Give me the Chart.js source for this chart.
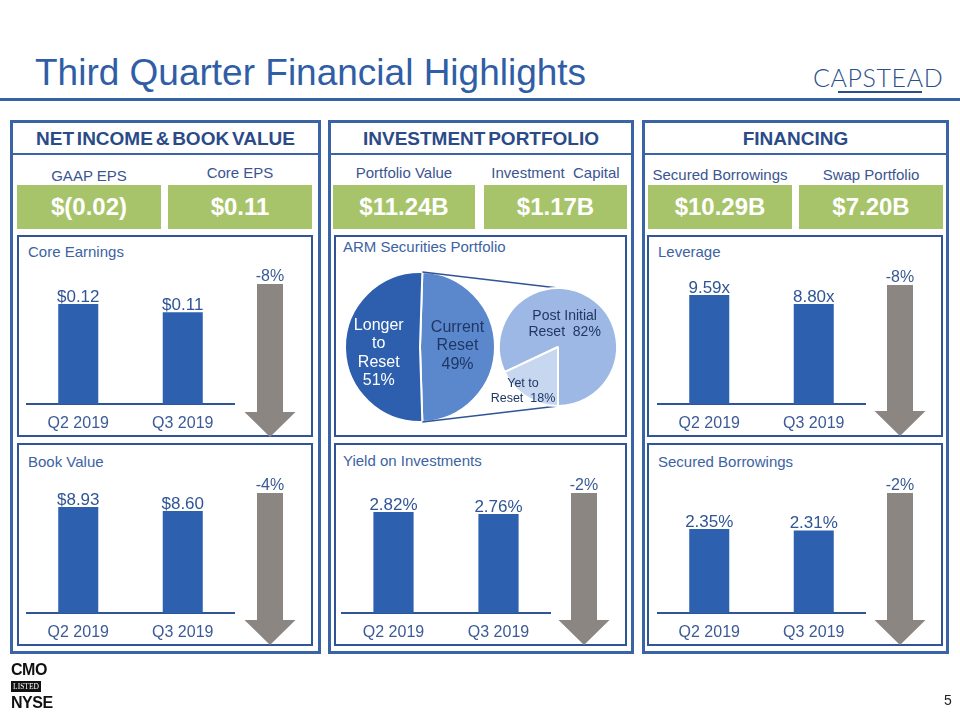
<!DOCTYPE html>
<html lang="en">
<head>
<meta charset="UTF-8">
<title>Third Quarter Financial Highlights</title>
<script src="https://cdn.jsdelivr.net/npm/chart.js@4.4.1/dist/chart.umd.min.js"></script>
<style>
  body { margin: 0; background: #fff; font-family: "Liberation Sans", Arial, sans-serif; }
  #slide { position: relative; width: 960px; height: 720px; overflow: hidden; background: #fff; }
  #slide div, #slide canvas, #slide svg { position: absolute; }
  .title { left: 35px; top: 54px; font-size: 37px; line-height: 37px; color: #2f5ea6; white-space: nowrap; }
  .logo { left: 813px; top: 65px; font-family: Lato, "Open Sans", sans-serif; font-weight: 300; font-size: 25px; line-height: 25px; letter-spacing: 0.6px; color: #2c4f8c; }
  .panel { box-sizing: border-box; top: 120px; height: 534px; border: 3px solid #3a64a6; }
  .sep { left: 0; right: 0; top: 30px; height: 2px; background: #3a64a6; }
  .head { left: 0; right: 0; top: 6px; text-align: center; font-weight: bold; font-size: 19px; line-height: 19px; word-spacing: -2.5px; color: #2b4b88; }
  .klabel { font-size: 15px; line-height: 15px; color: #3b5590; text-align: center; width: 150px; white-space: nowrap; }
  .kval { top: 185px; height: 44px; background: #a8c46a; color: #fff; font-weight: bold; font-size: 24px; line-height: 44px; text-align: center; }
  .sub { box-sizing: border-box; border: 2px solid #2f5597; height: 202px; }
  .stitle { font-size: 15px; line-height: 15px; color: #3c63a3; white-space: nowrap; }
  .chg { font-size: 16px; line-height: 16px; color: #3a5a95; width: 60px; text-align: center; }
</style>
</head>
<body>
<div id="slide">
  <div class="title">Third Quarter Financial Highlights</div>
  <div class="logo">CAPSTEAD</div>
  <div style="left:838px; top:91px; width:84px; height:2px; background:#2c4f8c;"></div>
  <div style="left:0; top:98px; width:960px; height:3px; background:#3563a6;"></div>

  <div class="panel" style="left:10px; width:311px;"><div class="sep"></div><div class="head">NET INCOME &amp; BOOK VALUE</div></div>
  <div class="panel" style="left:328px; width:306px;"><div class="sep"></div><div class="head">INVESTMENT PORTFOLIO</div></div>
  <div class="panel" style="left:642px; width:307px;"><div class="sep"></div><div class="head">FINANCING</div></div>

  <div id="kpis"></div>

  <div class="sub" style="left:17px; top:235px; width:296px;"></div>
  <div class="sub" style="left:17px; top:443px; width:296px; height:203px;"></div>
  <div class="sub" style="left:334px; top:235px; width:293px;"></div>
  <div class="sub" style="left:334px; top:443px; width:293px; height:203px;"></div>
  <div class="sub" style="left:647px; top:235px; width:296px;"></div>
  <div class="sub" style="left:647px; top:443px; width:296px; height:203px;"></div>

  <div class="stitle" style="left:28px; top:244px;">Core Earnings</div>
  <div class="stitle" style="left:28px; top:454px;">Book Value</div>
  <div class="stitle" style="left:343px; top:239px;">ARM Securities Portfolio</div>
  <div class="stitle" style="left:343px; top:453px;">Yield on Investments</div>
  <div class="stitle" style="left:658px; top:244px;">Leverage</div>
  <div class="stitle" style="left:658px; top:454px;">Secured Borrowings</div>

  <canvas id="core" width="209" height="190" style="left:26px; top:250px;"></canvas>
  <canvas id="book" width="209" height="189" style="left:26px; top:460px;"></canvas>
  <canvas id="yield" width="210" height="189" style="left:341px; top:460px;"></canvas>
  <canvas id="lev" width="209" height="190" style="left:657px; top:250px;"></canvas>
  <canvas id="borrow" width="209" height="189" style="left:657px; top:460px;"></canvas>
  <canvas id="armBig" width="289" height="197" style="left:337px; top:237px;"></canvas>
  <canvas id="armSmall" width="289" height="197" style="left:337px; top:237px;"></canvas>

  <div id="arrows"></div>

  <div style="left:11px; top:662px; font-weight:bold; font-size:16px; line-height:16px; letter-spacing:-0.5px; color:#111;">CMO</div>
  <div style="left:11px; top:681px; width:30px; height:11px; background:#111; color:#fff; font-family:'Liberation Serif',serif; font-size:7.5px; line-height:11px; text-align:center;">LISTED</div>
  <div style="left:11px; top:695px; font-weight:bold; font-size:16px; line-height:16px; letter-spacing:-0.5px; color:#111;">NYSE</div>
  <div style="left:944px; top:693px; font-size:14px; line-height:14px; color:#222;">5</div>
</div>

<script>
var quarters = ["Q2 2019", "Q3 2019"];
var coreEarnings = [0.12, 0.11];
var bookValue = [8.93, 8.60];
var yieldOnInv = [2.82, 2.76];
var leverage = [9.59, 8.80];
var borrowCost = [2.35, 2.31];

var kpiLabels = ["GAAP EPS", "Core EPS", "Portfolio Value", "Investment  Capital", "Secured Borrowings", "Swap Portfolio"];
var kpiValues = ["$(0.02)", "$0.11", "$11.24B", "$1.17B", "$10.29B", "$7.20B"];

var armNames = [["Current", "Reset"], ["Longer", "to", "Reset"]];
var armShares = [49, 51];
var resetNames = [["Post Initial", "Reset"], ["Yet to", "Reset"]];
var resetShares = [82, 18];

var FONT = '"Liberation Sans", Arial, sans-serif';
Chart.defaults.font.family = FONT;

// headline boxes
var kpiBox = [[17, 144], [168, 144], [333, 142], [484, 143], [648, 144], [799, 144]];
var kpiLabelTop = [168, 165, 165, 165, 167, 167];
var html = "";
kpiLabels.forEach(function (lab, i) {
    var b = kpiBox[i];
    html += '<div class="klabel" style="left:' + (b[0] + b[1] / 2 - 75) + 'px; top:' + kpiLabelTop[i] + 'px;">' + lab.replace(/  /g, " &nbsp;") + '</div>';
    html += '<div class="kval" style="left:' + b[0] + 'px; width:' + b[1] + 'px;">' + kpiValues[i] + '</div>';
});
document.getElementById("kpis").outerHTML = html;

function valueLabels(fmt) {
    return {
        id: "valueLabels",
        afterDatasetsDraw: function (chart) {
            var ctx = chart.ctx;
            var vals = chart.data.datasets[0].data;
            ctx.save();
            ctx.font = "17px " + FONT;
            ctx.fillStyle = "#2f5597";
            ctx.textAlign = "center";
            ctx.textBaseline = "alphabetic";
            chart.getDatasetMeta(0).data.forEach(function (bar, i) {
                ctx.fillText(fmt(vals[i]), bar.x, bar.y - 2);
            });
            ctx.restore();
        }
    };
}

function barChart(id, values, fmt, yMax) {
    return new Chart(document.getElementById(id), {
        type: "bar",
        data: {
            labels: quarters,
            datasets: [{ data: values, backgroundColor: "#2d61b0", barPercentage: 0.383, categoryPercentage: 1 }]
        },
        options: {
            responsive: false,
            animation: false,
            layout: { padding: 0 },
            plugins: { legend: { display: false }, tooltip: { enabled: false } },
            scales: {
                x: {
                    grid: { display: false, drawTicks: false },
                    border: { display: true, color: "#2f5597", width: 2 },
                    ticks: { color: "#3b5a97", font: { size: 16 }, padding: 10 },
                    afterFit: function (s) { s.height = 36; }
                },
                y: { display: false, min: 0, max: yMax }
            }
        },
        plugins: [valueLabels(fmt)]
    });
}

var dollars = function (v) { return "$" + v.toFixed(2); };
var pct = function (v) { return v.toFixed(2) + "%"; };
var times = function (v) { return v.toFixed(2) + "x"; };

barChart("core", coreEarnings, dollars, 0.1848);
barChart("book", bookValue, dollars, 12.89);
barChart("yield", yieldOnInv, pct, 4.27);
barChart("lev", leverage, times, 13.55);
barChart("borrow", borrowCost, pct, 4.28);

// pie labels: lines drawn at a point along each slice's middle angle
function sliceLabels(names, shares, pctOwnLine, style) {
    return {
        id: "sliceLabels",
        afterDatasetsDraw: function (chart) {
            var ctx = chart.ctx;
            ctx.save();
            ctx.textAlign = "center";
            ctx.textBaseline = "middle";
            chart.getDatasetMeta(0).data.forEach(function (arc, i) {
                var s = style[i];
                var lines = names[i].slice();
                if (pctOwnLine) lines.push(shares[i] + "%");
                else lines[lines.length - 1] += "  " + shares[i] + "%";
                var mid = (arc.startAngle + arc.endAngle) / 2;
                var px = arc.x + Math.cos(mid) * arc.outerRadius * s.frac + s.dx;
                var py = arc.y + Math.sin(mid) * arc.outerRadius * s.frac + s.dy;
                ctx.font = s.size + "px " + FONT;
                ctx.fillStyle = s.color;
                var y0 = py - (lines.length - 1) * s.lh / 2;
                lines.forEach(function (t, k) { ctx.fillText(t, px, y0 + k * s.lh); });
            });
            ctx.restore();
        }
    };
}

// turn the big pie so its split line stands upright
var armTotal = armShares[0] + armShares[1];
var armChart = new Chart(document.getElementById("armBig"), {
    type: "pie",
    data: {
        labels: armNames.map(function (n) { return n.join(" "); }),
        datasets: [{ data: armShares, backgroundColor: ["#5b87cd", "#2e5fae"], borderColor: "#fff", borderWidth: 2, hoverOffset: 0 }]
    },
    options: {
        responsive: false,
        animation: false,
        rotation: (180 - 360 * armShares[0] / armTotal) / 2,
        layout: { padding: { left: 7, top: 34, right: 130, bottom: 11 } },
        plugins: { legend: { display: false }, tooltip: { enabled: false } }
    },
    plugins: [sliceLabels(armNames, armShares, true, [
        { frac: 0.5, dx: 0, dy: -1, size: 16, lh: 18.5, color: "#1f3763" },
        { frac: 0.55, dx: 0, dy: 6, size: 16, lh: 18.5, color: "#ffffff" }
    ])]
});

var connector = {
    id: "connector",
    beforeDatasetsDraw: function (chart) {
        var big = armChart.getDatasetMeta(0).data[0];
        var small = chart.getDatasetMeta(0).data[0];
        var ctx = chart.ctx;
        var ends = [[big.startAngle, -Math.PI / 2], [big.endAngle, Math.PI / 2]];
        ctx.save();
        ctx.strokeStyle = "#2f5597";
        ctx.lineWidth = 1.5;
        ends.forEach(function (e) {
            ctx.beginPath();
            ctx.moveTo(big.x + big.outerRadius * Math.cos(e[0]), big.y + big.outerRadius * Math.sin(e[0]));
            ctx.lineTo(small.x + small.outerRadius * Math.cos(e[1]), small.y + small.outerRadius * Math.sin(e[1]));
            ctx.stroke();
        });
        ctx.restore();
    }
};

new Chart(document.getElementById("armSmall"), {
    type: "pie",
    data: {
        labels: resetNames.map(function (n) { return n.join(" "); }),
        datasets: [{ data: resetShares, backgroundColor: ["#9db8e4", "#c8d7f0"], borderColor: "#fff", borderWidth: 2, hoverOffset: 0 }]
    },
    options: {
        responsive: false,
        animation: false,
        rotation: 180 - 360 * resetShares[0] / (resetShares[0] + resetShares[1]),
        layout: { padding: { left: 161, top: 50, right: 8, bottom: 27 } },
        plugins: { legend: { display: false }, tooltip: { enabled: false } }
    },
    plugins: [connector, sliceLabels(resetNames, resetShares, false, [
        { frac: 0.4, dx: -6, dy: -3, size: 14, lh: 16, color: "#1f3763" },
        { frac: 0.95, dx: -5, dy: -3, size: 12.5, lh: 15, color: "#1f3763" }
    ])]
});

// change arrows
var changeSeries = [coreEarnings, bookValue, yieldOnInv, leverage, borrowCost];
var arrowPos = [[270, 284, 437], [270, 493, 645], [584, 493, 645], [900, 285, 436], [900, 493, 645]];
var svg = '<svg width="960" height="720" style="left:0;top:0;">';
var labs = "";
changeSeries.forEach(function (vals, i) {
    var a = arrowPos[i], cx = a[0], top = a[1], tip = a[2], neck = tip - 25;
    svg += '<polygon fill="#8c8683" points="' +
        (cx - 13) + ',' + top + ' ' + (cx + 13) + ',' + top + ' ' + (cx + 13) + ',' + neck + ' ' +
        (cx + 25.5) + ',' + neck + ' ' + cx + ',' + tip + ' ' + (cx - 25.5) + ',' + neck + ' ' +
        (cx - 13) + ',' + neck + '"/>';
    var chg = Math.round((vals[1] - vals[0]) / vals[0] * 100);
    labs += '<div class="chg" style="left:' + (cx - 30) + 'px; top:' + (top - 16) + 'px;">' + chg + '%</div>';
});
svg += '</svg>';
document.getElementById("arrows").outerHTML = svg + labs;
</script>
</body>
</html>
